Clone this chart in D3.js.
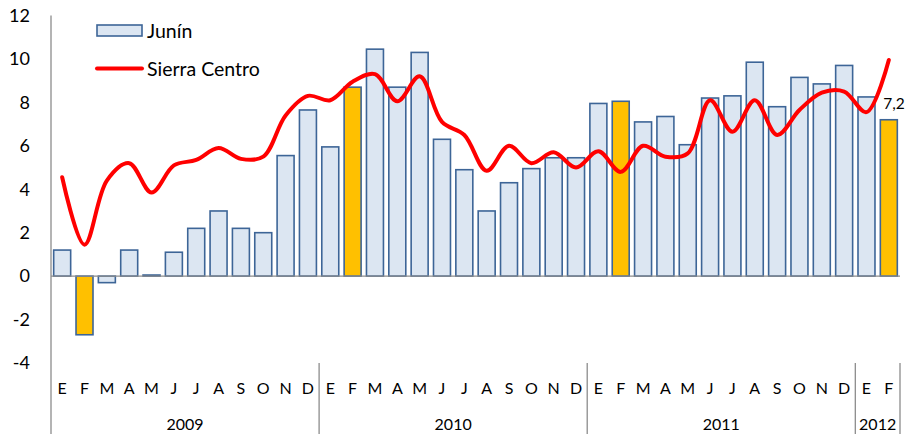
<!DOCTYPE html>
<html>
<head>
<meta charset="utf-8">
<script src="https://cdn.jsdelivr.net/npm/d3@7"></script>
<style>
  body { margin: 0; background: #fff; }
  text { font-family: Lato, "Open Sans", sans-serif; fill: #000; }
</style>
</head>
<body>
<script>
const SVG_WIDTH = 905;
const SVG_HEIGHT = 434;
const BAR_FILL = '#dce6f2';
const BAR_HILITE = '#ffc000';
const BAR_STROKE = '#3d6597';
const AXIS_COLOR = '#8c8c8c';

// data
const months = ['E','F','M','A','M','J','J','A','S','O','N','D'];
const years = [
  { label: '2009', count: 12 },
  { label: '2010', count: 12 },
  { label: '2011', count: 12 },
  { label: '2012', count: 2 }
];
const junin = [
  1.2, -2.7, -0.3, 1.2, 0.05, 1.1, 2.2, 3.0, 2.2, 2.0, 5.55, 7.65,
  5.95, 8.7, 10.45, 8.7, 10.3, 6.3, 4.9, 3.0, 4.3, 4.95, 5.45, 5.45,
  7.95, 8.05, 7.1, 7.35, 6.05, 8.2, 8.3, 9.85, 7.8, 9.15, 8.85, 9.7,
  8.25, 7.2
];
const sierraCentro = [
  4.55, 1.45, 4.4, 5.2, 3.85, 5.1, 5.35, 5.9, 5.4, 5.5, 7.4, 8.3,
  8.1, 8.95, 9.3, 8.05, 9.2, 7.1, 6.5, 4.85, 6.0, 5.2, 5.7, 5.0,
  5.75, 4.8, 6.0, 5.5, 5.65, 8.1, 6.65, 8.1, 6.5, 7.65, 8.45, 8.5,
  7.55, 9.95
];
const yTicks = [-4, -2, 0, 2, 4, 6, 8, 10, 12];
const lastLabel = '7,2';

const margin = { left: 51, right: 5, top: 15, bottom: 71 };

const labels = years.flatMap(y => months.slice(0, y.count));
const idx = d3.range(junin.length);

const x = d3.scaleBand()
  .domain(idx)
  .range([margin.left, SVG_WIDTH - margin.right])
  .paddingInner(0.24)
  .paddingOuter(0.12);

const y = d3.scaleLinear()
  .domain([-4, 12])
  .range([363, 15.5]);

const svg = d3.select('body').append('svg')
  .attr('width', SVG_WIDTH)
  .attr('height', SVG_HEIGHT);

// y axis labels
svg.append('g').selectAll('text')
  .data(yTicks)
  .join('text')
  .attr('x', 30)
  .attr('y', d => y(d))
  .attr('dy', '0.35em')
  .attr('text-anchor', 'end')
  .style('font-size', '18px')
  .text(d => d);

// bars
svg.append('g').selectAll('rect')
  .data(junin)
  .join('rect')
  .attr('x', (d, i) => x(i))
  .attr('width', x.bandwidth())
  .attr('y', d => y(Math.max(0, d)))
  .attr('height', d => Math.abs(y(d) - y(0)))
  .attr('fill', (d, i) => labels[i] === 'F' ? BAR_HILITE : BAR_FILL)
  .attr('stroke', BAR_STROKE)
  .attr('stroke-width', 1.6);

// axis lines
const x0 = margin.left, x1 = SVG_WIDTH - margin.right;
svg.append('line')
  .attr('x1', x0).attr('x2', x1)
  .attr('y1', y(0)).attr('y2', y(0))
  .attr('stroke', AXIS_COLOR).attr('stroke-width', 1.3);
svg.append('line')
  .attr('x1', x0).attr('x2', x0)
  .attr('y1', y(12)).attr('y2', SVG_HEIGHT)
  .attr('stroke', AXIS_COLOR).attr('stroke-width', 1.3);

// year separators
const step = x.step();
let start = 0;
const yearPos = years.map(yr => {
  const s = start;
  start += yr.count;
  return { label: yr.label, from: s, to: start };
});
svg.append('g').selectAll('line')
  .data(yearPos)
  .join('line')
  .attr('x1', d => x0 + d.to * step)
  .attr('x2', d => x0 + d.to * step)
  .attr('y1', y(-4))
  .attr('y2', SVG_HEIGHT)
  .attr('stroke', AXIS_COLOR)
  .attr('stroke-width', 1.3);

svg.append('g').selectAll('text')
  .data(yearPos)
  .join('text')
  .attr('x', d => x0 + (d.from + d.to) / 2 * step)
  .attr('y', 424)
  .attr('dy', '0.35em')
  .attr('text-anchor', 'middle')
  .style('font-size', '16px')
  .text(d => d.label);

// month labels
svg.append('g').selectAll('text')
  .data(labels)
  .join('text')
  .attr('x', (d, i) => x(i) + x.bandwidth() / 2)
  .attr('y', 388)
  .attr('dy', '0.35em')
  .attr('text-anchor', 'middle')
  .style('font-size', '16px')
  .text(d => d);

// Sierra Centro line
const line = d3.line()
  .x((d, i) => x(i) + x.bandwidth() / 2)
  .y(d => y(d))
  .curve(d3.curveCatmullRom.alpha(0.5));

svg.append('path')
  .datum(sierraCentro)
  .attr('d', line)
  .attr('fill', 'none')
  .attr('stroke', '#ff0000')
  .attr('stroke-width', 4)
  .attr('stroke-linecap', 'round')
  .attr('stroke-linejoin', 'round');

// last value label
const last = junin.length - 1;
svg.append('text')
  .attr('x', x(last) + 3)
  .attr('y', y(junin[last]) - 16)
  .attr('dy', '0.35em')
  .style('font-size', '15.5px')
  .text(lastLabel);

// legend
const legend = svg.append('g');
legend.append('rect')
  .attr('x', 97).attr('y', 25)
  .attr('width', 45).attr('height', 11)
  .attr('fill', BAR_FILL)
  .attr('stroke', BAR_STROKE)
  .attr('stroke-width', 1.6);
legend.append('text')
  .attr('x', 147).attr('y', 31)
  .attr('dy', '0.35em')
  .style('font-size', '19.5px')
  .text('Junín');
legend.append('line')
  .attr('x1', 97).attr('x2', 142)
  .attr('y1', 68.5).attr('y2', 68.5)
  .attr('stroke', '#ff0000')
  .attr('stroke-width', 4)
  .attr('stroke-linecap', 'round');
legend.append('text')
  .attr('x', 147).attr('y', 69)
  .attr('dy', '0.35em')
  .style('font-size', '19.5px')
  .text('Sierra Centro');
</script>
</body>
</html>
